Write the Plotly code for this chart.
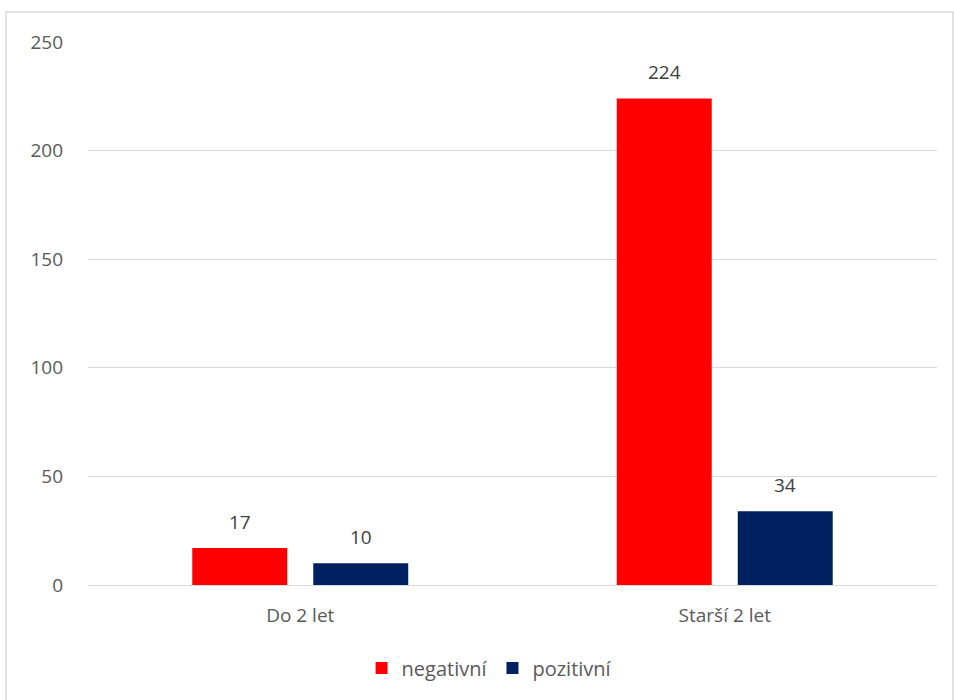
import plotly.graph_objects as go

categories = ["Do 2 let", "Starší 2 let"]
negativni = [17, 224]
pozitivni = [10, 34]
y_ticks = [0, 50, 100, 150, 200, 250]

FONT = "Open Sans"
TEXT_COLOR = "#595959"
LABEL_COLOR = "#404040"

fig = go.Figure()
fig.add_trace(go.Bar(
    name="negativní", x=categories, y=negativni,
    marker=dict(color="#ff0000", line=dict(width=0)),
))
fig.add_trace(go.Bar(
    name="pozitivní", x=categories, y=pozitivni,
    marker=dict(color="#002060", line=dict(width=0)),
))

# value labels above each bar, shifted onto the grouped bar positions
for series, dx in ((negativni, -60.5), (pozitivni, 60.5)):
    for cat, val in zip(categories, series):
        fig.add_annotation(x=cat, y=val, text=str(val), showarrow=False,
                           xshift=dx, yshift=26, yanchor="middle",
                           font=dict(family=FONT, size=19, color=LABEL_COLOR))

L, R, T, B = 88, 17, 42, 115
W, H = 954, 700
pw = W - L - R
ph = H - T - B

fig.update_layout(
    width=W, height=H,
    margin=dict(l=L, r=R, t=T, b=B),
    paper_bgcolor="white", plot_bgcolor="white",
    barmode="group", bargap=0.43, bargroupgap=0.215,
    font=dict(family=FONT, size=19, color=TEXT_COLOR),
    showlegend=True,
    legend=dict(orientation="h", x=0.473, xanchor="center", y=-0.153, yanchor="middle",
                font=dict(family=FONT, size=20, color=TEXT_COLOR),
                itemwidth=30, traceorder="normal"),
    yaxis=dict(range=[0, 250], tickvals=y_ticks, showgrid=True, gridcolor="#d9d9d9",
               gridwidth=1.3, zeroline=True, zerolinecolor="#d9d9d9", zerolinewidth=1.3,
               ticks="", ticklabelstandoff=24, showline=False),
    xaxis=dict(showgrid=False, ticks="", showline=False, ticklabelstandoff=17),
    shapes=[dict(type="rect", xref="paper", yref="paper",
                 x0=(6 - L) / pw, x1=(953 - L) / pw,
                 y0=(H - 700 - B) / ph - 0.01, y1=(H - B - 12) / ph,
                 line=dict(color="#d9d9d9", width=1.5), fillcolor="rgba(0,0,0,0)", layer="below")],
)

fig.write_html("out.html")
